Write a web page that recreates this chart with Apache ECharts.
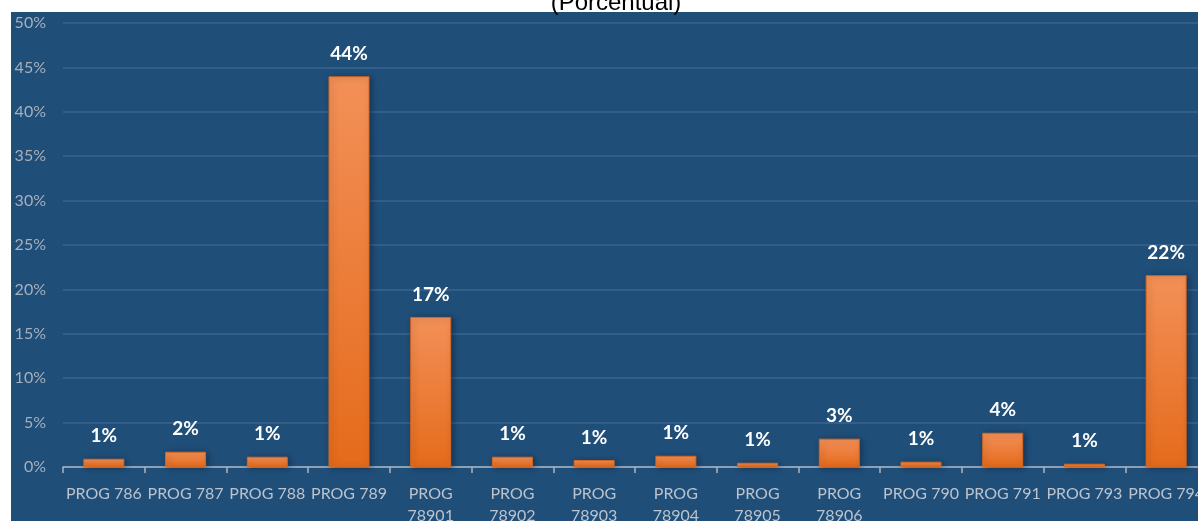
<!DOCTYPE html>
<html>
<head>
<meta charset="utf-8">
<script src="https://cdn.jsdelivr.net/npm/echarts@6/dist/echarts.min.js"></script>
<style>
  html, body { margin: 0; padding: 0; background: #ffffff; }
  #wrap { position: relative; width: 1198px; height: 521px; overflow: hidden; background: #ffffff; }
  #panel { position: absolute; left: 11px; top: 12px; right: 0; bottom: 0; background: #1F4E79; }
  #chart { position: absolute; left: 0; top: 0; width: 1198px; height: 521px; }
</style>
</head>
<body>
<div id="wrap">
  <div id="panel"></div>
  <div id="chart"></div>
</div>
<script>
const categories = ["PROG 786", "PROG 787", "PROG 788", "PROG 789", "PROG 78901", "PROG 78902", "PROG 78903", "PROG 78904", "PROG 78905", "PROG 78906", "PROG 790", "PROG 791", "PROG 793", "PROG 794"];
const values = [0.93, 1.72, 1.16, 44.0, 16.9, 1.16, 0.79, 1.27, 0.48, 3.19, 0.6, 3.86, 0.37, 21.6];
const valueLabels = ["1%", "2%", "1%", "44%", "17%", "1%", "1%", "1%", "1%", "3%", "1%", "4%", "1%", "22%"];
const yTicks = [0, 5, 10, 15, 20, 25, 30, 35, 40, 45, 50];

const chart = echarts.init(document.getElementById('chart'), null, { renderer: 'canvas' });
chart.setOption({
  backgroundColor: 'transparent',
  animation: false,
  title: {
    text: '(Porcentual)',
    left: 616,
    textAlign: 'center',
    top: -9,
    padding: 0,
    textStyle: { color: '#000000', fontSize: 24, fontWeight: 'normal', fontFamily: 'Liberation Sans, Arial, sans-serif' }
  },
  grid: { left: 63, top: 23, width: 1144, height: 444, containLabel: false, outerBoundsMode: 'none' },
  xAxis: {
    type: 'category',
    data: categories,
    axisLine: { show: true, lineStyle: { color: '#A9B6C4', width: 1.5 } },
    axisTick: { show: true, length: 6, alignWithLabel: false, lineStyle: { color: '#A9B6C4', width: 1.5 } },
    axisLabel: {
      interval: 0,
      margin: 16,
      color: '#BCC3CC',
      fontSize: 16,
      lineHeight: 22,
      hideOverlap: false,
      fontFamily: 'Lato, Open Sans, sans-serif',
      formatter: function (v) { return v.length > 8 ? v.replace(' ', '\n') : v; }
    }
  },
  yAxis: {
    type: 'value',
    min: 0,
    max: 50,
    interval: 5,
    axisLine: { show: false },
    axisTick: { show: false },
    splitLine: { show: true, lineStyle: { color: '#3B6490', width: 1.5 } },
    axisLabel: {
      margin: 17,
      color: '#A7B0BB',
      fontSize: 16,
      fontFamily: 'Lato, Open Sans, sans-serif',
      formatter: function (v) { return yTicks.indexOf(v) >= 0 ? v + '%' : ''; }
    }
  },
  series: [{
    type: 'bar',
    data: values,
    barWidth: 41,
    itemStyle: {
      color: new echarts.graphic.LinearGradient(0, 0, 0, 1, [
        { offset: 0, color: '#F39058' },
        { offset: 1, color: '#E56B1B' }
      ]),
      borderColor: '#D8661F',
      borderWidth: 1,
      shadowColor: 'rgba(0,0,0,0.35)',
      shadowBlur: 6,
      shadowOffsetX: 2,
      shadowOffsetY: 1
    },
    label: {
      show: true,
      position: 'top',
      distance: 13,
      color: '#FFFFFF',
      fontSize: 19,
      fontWeight: 'bold',
      fontFamily: 'Lato, Open Sans, sans-serif',
      formatter: function (p) { return valueLabels[p.dataIndex]; }
    }
  }]
});
</script>
</body>
</html>
